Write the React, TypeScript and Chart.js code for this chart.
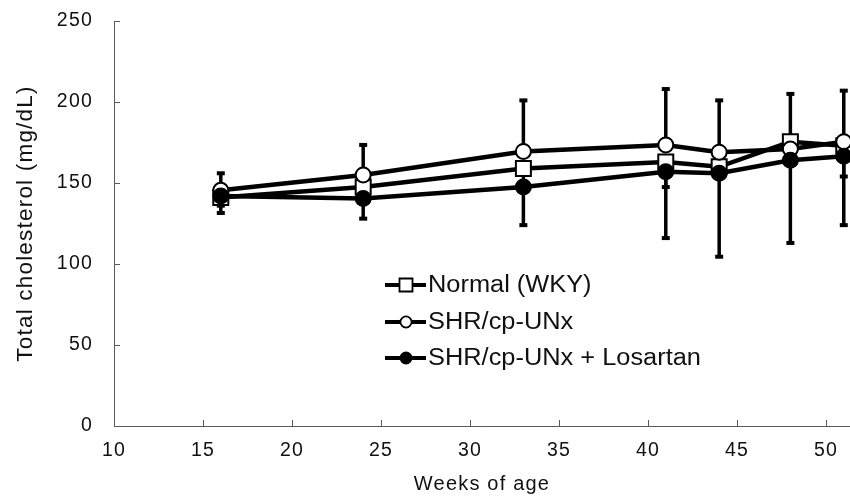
import React, { useEffect, useRef } from 'react';
import { Chart, registerables } from 'chart.js';

Chart.register(...registerables);

// ---- data ----
const weeks = [16, 24, 33, 41, 44, 48, 51];
const normalWKY = [141, 147.5, 159, 163, 160, 175.5, 173];
const shrUNx = [145.5, 155, 169.5, 173.5, 169, 171, 175.5];
const shrLosartan = [142, 140.5, 147.5, 157, 156, 164, 166.5];
const normalErrMinus = [5, 7, 9, 15.5, 6, 10, 19];
const shrErrPlus = [10.5, 18.5, 31.5, 34.5, 32, 34, 31.5];
const losartanErrMinus = [10.5, 12.5, 23.5, 41, 51.5, 51, 42.5];
const seriesLabels = ['Normal (WKY)', 'SHR/cp-UNx', 'SHR/cp-UNx + Losartan'];
const xAxisTitle = 'Weeks of age';
const yAxisTitle = 'Total cholesterol (mg/dL)';
const xMin = 10;
const xMax = 51.35;
const xStep = 5;
const yMin = 0;
const yMax = 250;
const yStep = 50;

const FONT = "'Liberation Sans', Arial, Helvetica, sans-serif";
const AXIS_COLOR = '#595959';
const TEXT_COLOR = '#111111';

const toPoints = (ys: number[]) => weeks.map((x, i) => ({ x, y: ys[i] }));

const spacingPlugin = {
  id: 'textSpacing',
  beforeDraw(chart: any) {
    (chart.ctx as any).letterSpacing = '1.2px';
  },
};

const errorBarPlugin = {
  id: 'errorBars',
  beforeDatasetsDraw(chart: any) {
    const { ctx } = chart;
    const xs = chart.scales.x;
    const ys = chart.scales.y;
    ctx.save();
    ctx.strokeStyle = '#000';
    chart.data.datasets.forEach((ds: any) => {
      const plus: number[] | undefined = ds.errPlus;
      const minus: number[] | undefined = ds.errMinus;
      ds.data.forEach((p: any, i: number) => {
        const px = xs.getPixelForValue(p.x);
        const py = ys.getPixelForValue(p.y);
        const ends: number[] = [];
        if (plus) ends.push(ys.getPixelForValue(p.y + plus[i]));
        if (minus) ends.push(ys.getPixelForValue(p.y - minus[i]));
        ends.forEach((ey) => {
          ctx.lineWidth = 3.5;
          ctx.beginPath();
          ctx.moveTo(px, py);
          ctx.lineTo(px, ey);
          ctx.stroke();
          ctx.lineWidth = 4;
          ctx.beginPath();
          ctx.moveTo(px - 4, ey);
          ctx.lineTo(px + 4, ey);
          ctx.stroke();
        });
      });
    });
    ctx.restore();
  },
};

const inwardTicksPlugin = {
  id: 'inwardTicks',
  afterDraw(chart: any) {
    const { ctx, chartArea } = chart;
    const xs = chart.scales.x;
    const ys = chart.scales.y;
    ctx.save();
    ctx.strokeStyle = AXIS_COLOR;
    ctx.lineWidth = 1;
    xs.ticks.forEach((t: any) => {
      const px = Math.round(xs.getPixelForValue(t.value)) + 0.5;
      ctx.beginPath();
      ctx.moveTo(px, chartArea.bottom);
      ctx.lineTo(px, chartArea.bottom - 6);
      ctx.stroke();
    });
    ys.ticks.forEach((t: any) => {
      const py = Math.round(ys.getPixelForValue(t.value)) + 0.5;
      ctx.beginPath();
      ctx.moveTo(chartArea.left, py);
      ctx.lineTo(chartArea.left + 6, py);
      ctx.stroke();
    });
    ctx.restore();
  },
};

const legendPlugin = {
  id: 'customLegend',
  afterDraw(chart: any) {
    const { ctx } = chart;
    const rowsY = [285, 322, 358];
    const lineX0 = 385;
    const lineX1 = 426;
    const markX = 406;
    ctx.save();
    chart.data.datasets.forEach((ds: any, i: number) => {
      const y = rowsY[i];
      ctx.strokeStyle = '#000';
      ctx.lineWidth = 4;
      ctx.beginPath();
      ctx.moveTo(lineX0, y);
      ctx.lineTo(lineX1, y);
      ctx.stroke();
      ctx.lineWidth = 1.8;
      ctx.fillStyle = ds.pointBackgroundColor;
      ctx.strokeStyle = ds.pointBorderColor;
      ctx.beginPath();
      if (ds.pointStyle === 'rect') {
        ctx.rect(markX - 6.5, y - 6.5, 13, 13);
      } else {
        ctx.arc(markX, y, 5.6, 0, Math.PI * 2);
      }
      ctx.fill();
      ctx.stroke();
      ctx.fillStyle = TEXT_COLOR;
      ctx.font = `23.5px ${FONT}`;
      (ctx as any).letterSpacing = '0px';
      ctx.textBaseline = 'middle';
      ctx.textAlign = 'left';
      ctx.save();
      ctx.translate(lineX1 + 2, y + 1);
      ctx.scale(1.08, 1);
      ctx.fillText(ds.label, 0, 0);
      ctx.restore();
    });
    ctx.restore();
  },
};

export default function App() {
  const canvasRef = useRef<HTMLCanvasElement | null>(null);

  useEffect(() => {
    const canvas = canvasRef.current;
    if (!canvas) return;
    const chart = new Chart(canvas, {
      type: 'line',
      data: {
        datasets: [
          {
            label: seriesLabels[0],
            data: toPoints(normalWKY),
            errMinus: normalErrMinus,
            borderColor: '#000',
            borderWidth: 4.5,
            pointStyle: 'rect',
            pointRadius: 10.6,
            pointBackgroundColor: '#fff',
            pointBorderColor: '#000',
            pointBorderWidth: 2,
            tension: 0,
            clip: false,
            order: 3,
          } as any,
          {
            label: seriesLabels[1],
            data: toPoints(shrUNx),
            errPlus: shrErrPlus,
            borderColor: '#000',
            borderWidth: 4.5,
            pointStyle: 'circle',
            pointRadius: 7.5,
            pointBackgroundColor: '#fff',
            pointBorderColor: '#000',
            pointBorderWidth: 2,
            tension: 0,
            clip: false,
            order: 2,
          } as any,
          {
            label: seriesLabels[2],
            data: toPoints(shrLosartan),
            errMinus: losartanErrMinus,
            borderColor: '#000',
            borderWidth: 4.5,
            pointStyle: 'circle',
            pointRadius: 7.5,
            pointBackgroundColor: '#000',
            pointBorderColor: '#000',
            pointBorderWidth: 2,
            tension: 0,
            clip: false,
            order: 1,
          } as any,
        ],
      },
      options: {
        responsive: false,
        animation: false,
        layout: { autoPadding: false, padding: { top: 21, right: 0, bottom: 0, left: 0 } },
        plugins: {
          legend: { display: false },
          tooltip: { enabled: false },
        },
        scales: {
          x: {
            type: 'linear',
            min: xMin,
            max: xMax,
            grid: { display: false, drawTicks: false },
            border: { display: true, color: AXIS_COLOR, width: 1 },
            ticks: {
              stepSize: xStep,
              includeBounds: false,
              autoSkip: false,
              maxRotation: 0,
              padding: 13,
              color: TEXT_COLOR,
              font: { family: FONT, size: 19.5 },
            },
            title: {
              display: true,
              text: xAxisTitle,
              color: TEXT_COLOR,
              font: { family: FONT, size: 20 },
              padding: { top: 0, bottom: 5 },
            },
            afterFit: (s: any) => {
              s.height = 75;
              s.paddingLeft = 0;
              s.paddingRight = 0;
            },
          },
          y: {
            type: 'linear',
            min: yMin,
            max: yMax,
            grid: { display: false, drawTicks: false },
            border: { display: true, color: AXIS_COLOR, width: 1 },
            ticks: {
              stepSize: yStep,
              padding: 21,
              color: TEXT_COLOR,
              font: { family: FONT, size: 19.5 },
            },
            title: {
              display: true,
              text: yAxisTitle,
              color: TEXT_COLOR,
              font: { family: FONT, size: 22.5 },
              padding: { top: 12, bottom: 0 },
            },
            afterFit: (s: any) => {
              s.width = 114;
              s.paddingTop = 0;
              s.paddingBottom = 0;
            },
          },
        },
      } as any,
      plugins: [spacingPlugin, errorBarPlugin, inwardTicksPlugin, legendPlugin],
    });
    return () => chart.destroy();
  }, []);

  return (
    <div style={{ position: 'absolute', left: 0, top: 0, width: 850, height: 501, overflow: 'hidden', background: '#fff' }}>
      <canvas ref={canvasRef} width={850} height={501} style={{ display: 'block' }} />
    </div>
  );
}
